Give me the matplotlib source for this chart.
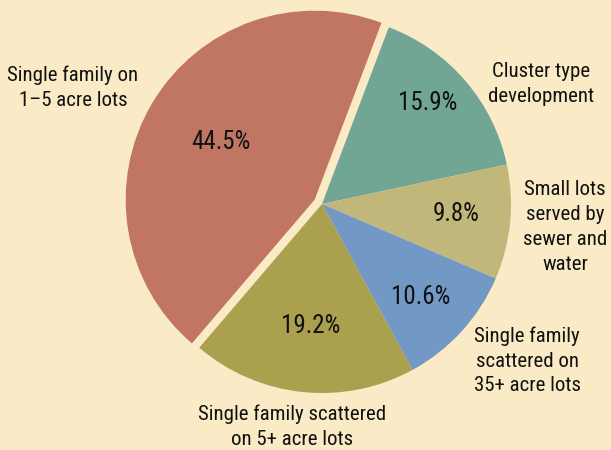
import matplotlib
matplotlib.use("Agg")
import matplotlib.pyplot as plt
from matplotlib import font_manager

categories = ["Cluster type\ndevelopment",
              "Small lots\nserved by\nsewer and\nwater",
              "Single family\nscattered on\n35+ acre lots",
              "Single family scattered\non 5+ acre lots",
              "Single family on\n1\u20135 acre lots"]
values = [15.9, 9.8, 10.6, 19.2, 44.5]
pct_labels = ["15.9%", "9.8%", "10.6%", "19.2%", "44.5%"]

colors = ["#71A594", "#C2B77A", "#7298C6", "#AAA04E", "#C07660"]
explode = [0, 0, 0, 0, 0.045]
bg = "#FAEBC6"

avail = {f.name for f in font_manager.fontManager.ttflist}
prefs = ["Roboto Condensed", "Fira Sans Condensed", "Open Sans Condensed", "PT Sans Narrow",
         "Archivo Narrow", "Asap Condensed"]
chosen = next((f for f in prefs if f in avail), None)
if chosen:
    fam = [chosen, "DejaVu Sans"]
    stretch = 'normal'
else:
    fam = ["DejaVu Sans"]
    stretch = 'condensed'
plt.rcParams['font.family'] = fam

W, H = 611, 450
fig = plt.figure(figsize=(W / 100, H / 100), dpi=100, facecolor=bg)
ax = fig.add_axes([0, 0, 1, 1])
ax.set_facecolor(bg)

cx, cy, R = 322, 204, 189
ax.pie(values, colors=colors, explode=explode, startangle=69.3, counterclock=False,
       radius=1.0, wedgeprops=dict(linewidth=0))
ax.set_xlim(-cx / R, (W - cx) / R)
ax.set_ylim(-(H - cy) / R, cy / R)
ax.set_aspect('auto')
ax.axis('off')

def px(x, y):
    return (x - cx) / R, (cy - y) / R

pct_pos = [(428, 103), (456, 214), (421, 297), (311, 326), (221, 142)]
lab_pos = [(541, 84), (565, 227), (527, 361), (292, 427), (73, 88)]

for t, (x, y) in zip(pct_labels, pct_pos):
    ax.text(*px(x, y), t, ha='center', va='center', fontsize=18, color='#111111',
            fontstretch=stretch)
for t, (x, y) in zip(categories, lab_pos):
    ax.text(*px(x, y), t, ha='center', va='center', fontsize=15, color='#111111',
            linespacing=1.38, fontstretch=stretch)

fig.savefig("out.png", dpi=100, facecolor=bg)
